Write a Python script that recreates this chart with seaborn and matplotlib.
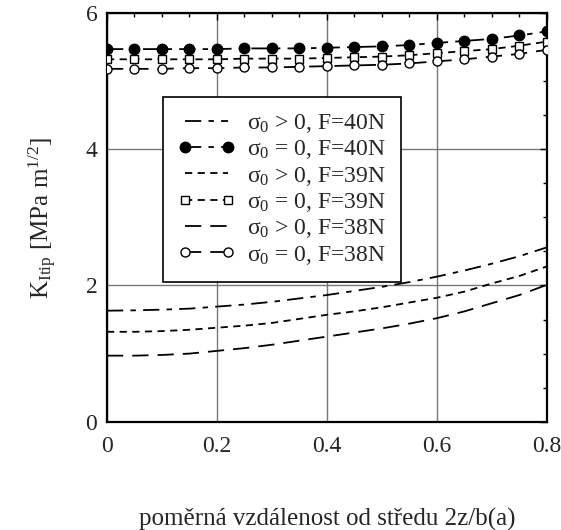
import numpy as np
import pandas as pd
import matplotlib
matplotlib.use("Agg")
import matplotlib.pyplot as plt
from matplotlib.ticker import MultipleLocator
import seaborn as sns

# data
x = [0.0, 0.05, 0.1, 0.15, 0.2, 0.25, 0.3, 0.35, 0.4, 0.45, 0.5, 0.55, 0.6, 0.65, 0.7, 0.75, 0.8]

k_pos_40 = [1.63, 1.635, 1.645, 1.66, 1.69, 1.72, 1.76, 1.81, 1.86, 1.92, 1.98, 2.05, 2.13, 2.22, 2.32, 2.43, 2.56]
k_zero_40 = [5.47, 5.47, 5.47, 5.47, 5.47, 5.48, 5.48, 5.48, 5.49, 5.50, 5.51, 5.53, 5.56, 5.59, 5.62, 5.67, 5.73]
k_pos_39 = [1.32, 1.32, 1.33, 1.35, 1.38, 1.41, 1.45, 1.51, 1.57, 1.62, 1.68, 1.75, 1.82, 1.91, 2.03, 2.14, 2.28]
k_zero_39 = [5.32, 5.32, 5.32, 5.32, 5.32, 5.33, 5.33, 5.33, 5.34, 5.35, 5.36, 5.38, 5.41, 5.44, 5.47, 5.52, 5.58]
k_pos_38 = [0.97, 0.97, 0.98, 1.00, 1.04, 1.08, 1.13, 1.19, 1.25, 1.31, 1.37, 1.44, 1.52, 1.62, 1.74, 1.86, 2.01]
k_zero_38 = [5.18, 5.18, 5.18, 5.19, 5.19, 5.20, 5.20, 5.21, 5.22, 5.23, 5.24, 5.26, 5.29, 5.32, 5.36, 5.40, 5.46]

x_ticks = [0, 0.2, 0.4, 0.6, 0.8]
x_ticklabels = ['0', '0.2', '0.4', '0.6', '0.8']
y_ticks = [0, 2, 4, 6]
y_ticklabels = ['0', '2', '4', '6']

labels = [r"$\sigma_0$ > 0, F=40N", r"$\sigma_0$ = 0, F=40N",
          r"$\sigma_0$ > 0, F=39N", r"$\sigma_0$ = 0, F=39N",
          r"$\sigma_0$ > 0, F=38N", r"$\sigma_0$ = 0, F=38N"]

sns.set_style("white")
plt.rcParams['font.family'] = ['Liberation Serif', 'DejaVu Serif']
plt.rcParams['mathtext.fontset'] = 'custom'
plt.rcParams['mathtext.rm'] = 'Liberation Serif'
plt.rcParams['mathtext.it'] = 'Liberation Serif:italic'
plt.rcParams['mathtext.default'] = 'regular'

fig = plt.figure(figsize=(5.61, 5.30), dpi=100)
ax = fig.add_axes([0.1907, 0.2043, 0.7843, 0.7712])

ls_40 = (0, (9, 4, 3, 4))
ls_39 = (0, (4, 3))
ls_38 = (0, (9, 5))

series = [
    (k_pos_40, ls_40, None, 'k', 0),
    (k_zero_40, ls_40, 'o', 'k', 7.5),
    (k_pos_39, ls_39, None, 'k', 0),
    (k_zero_39, ls_39, 's', 'white', 6),
    (k_pos_38, ls_38, None, 'k', 0),
    (k_zero_38, ls_38, 'o', 'white', 6.5),
]

for (vals, ls, mk, fc, ms), lab in zip(series, labels):
    df = pd.DataFrame({'x': x, 'y': vals})
    kw = {}
    if mk is not None:
        kw = dict(marker=mk, markersize=ms,
                  markerfacecolor=fc, markeredgecolor='k', markeredgewidth=1)
    sns.lineplot(data=df, x='x', y='y', ax=ax, color='k', linewidth=1.3,
                 linestyle=ls, label=lab, zorder=3, **kw)

ax.set_xlim(0, 0.8)
ax.set_ylim(0, 6)
ax.set_xticks(x_ticks)
ax.set_xticklabels(x_ticklabels)
ax.set_yticks(y_ticks)
ax.set_yticklabels(y_ticklabels)
ax.xaxis.set_minor_locator(MultipleLocator(0.05))
ax.yaxis.set_minor_locator(MultipleLocator(0.5))
ax.tick_params(which='both', direction='in', top=True, right=True, color='k')
ax.tick_params(which='major', length=5, width=1, labelsize=17)
ax.tick_params(axis='x', which='major', pad=10)
ax.tick_params(axis='y', which='major', pad=7)
ax.tick_params(which='minor', length=3, width=1)
ax.grid(True, which='major', color='#777777', linewidth=1)
ax.set_axisbelow(True)
for sp in ax.spines.values():
    sp.set_color('k')
    sp.set_linewidth(1.6)

ax.set_xlabel('poměrná vzdálenost od středu 2z/b(a)', fontsize=18, labelpad=37)
ax.set_ylabel(r'K$_{\mathrm{Itip}}$ [MPa m$^{1/2}$]', fontsize=18, labelpad=19)

leg = ax.legend(loc='upper left', bbox_to_anchor=(0.127, 0.795), fontsize=17,
                frameon=True, fancybox=False, framealpha=1, edgecolor='k',
                handlelength=2.4, handletextpad=0.5, labelspacing=0.14,
                borderpad=0.65, borderaxespad=0, numpoints=2)
leg.get_frame().set_linewidth(1.2)
leg.set_zorder(5)

plt.savefig('out.png', dpi=100)
